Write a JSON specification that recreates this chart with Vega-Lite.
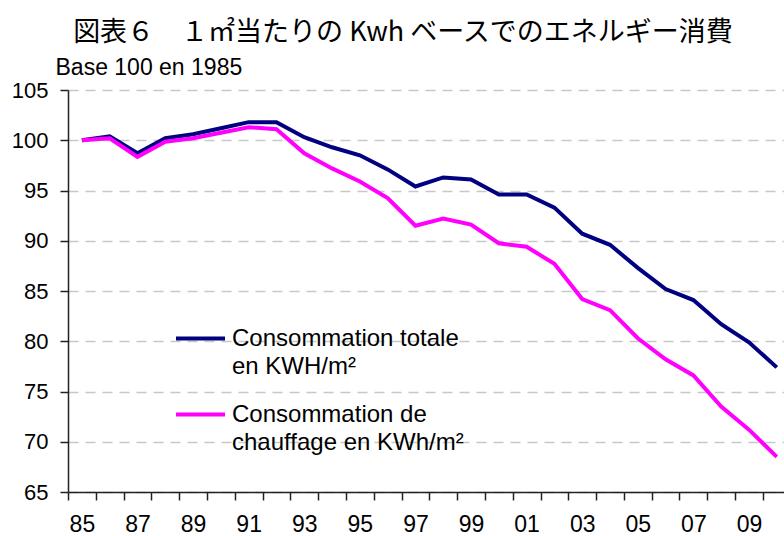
{
  "$schema": "https://vega.github.io/schema/vega-lite/v6.json",
  "width": 716,
  "height": 402,
  "autosize": {"type": "none"},
  "padding": {"left": 68, "top": 90, "right": 0, "bottom": 44},
  "background": "white",
  "title": {
    "text": "図表６　１㎡当たりの Kwh ベースでのエネルギー消費",
    "font": "Noto Sans CJK JP",
    "fontSize": 27,
    "fontWeight": "normal",
    "color": "black",
    "anchor": "middle",
    "frame": "group",
    "baseline": "alphabetic",
    "offset": 20,
    "dx": -23,
    "dy": 32
  },
  "config": {
    "view": {"stroke": null},
    "font": "Liberation Sans"
  },
  "data": {
    "values": [
      {"year": 1985, "series": "Consommation totale en KWH/m²", "value": 100.0},
      {"year": 1986, "series": "Consommation totale en KWH/m²", "value": 100.4},
      {"year": 1987, "series": "Consommation totale en KWH/m²", "value": 98.7},
      {"year": 1988, "series": "Consommation totale en KWH/m²", "value": 100.2},
      {"year": 1989, "series": "Consommation totale en KWH/m²", "value": 100.6},
      {"year": 1990, "series": "Consommation totale en KWH/m²", "value": 101.2},
      {"year": 1991, "series": "Consommation totale en KWH/m²", "value": 101.8},
      {"year": 1992, "series": "Consommation totale en KWH/m²", "value": 101.8},
      {"year": 1993, "series": "Consommation totale en KWH/m²", "value": 100.3},
      {"year": 1994, "series": "Consommation totale en KWH/m²", "value": 99.3},
      {"year": 1995, "series": "Consommation totale en KWH/m²", "value": 98.5},
      {"year": 1996, "series": "Consommation totale en KWH/m²", "value": 97.1},
      {"year": 1997, "series": "Consommation totale en KWH/m²", "value": 95.4},
      {"year": 1998, "series": "Consommation totale en KWH/m²", "value": 96.3},
      {"year": 1999, "series": "Consommation totale en KWH/m²", "value": 96.1},
      {"year": 2000, "series": "Consommation totale en KWH/m²", "value": 94.6},
      {"year": 2001, "series": "Consommation totale en KWH/m²", "value": 94.6},
      {"year": 2002, "series": "Consommation totale en KWH/m²", "value": 93.3},
      {"year": 2003, "series": "Consommation totale en KWH/m²", "value": 90.7},
      {"year": 2004, "series": "Consommation totale en KWH/m²", "value": 89.6},
      {"year": 2005, "series": "Consommation totale en KWH/m²", "value": 87.3},
      {"year": 2006, "series": "Consommation totale en KWH/m²", "value": 85.2},
      {"year": 2007, "series": "Consommation totale en KWH/m²", "value": 84.1},
      {"year": 2008, "series": "Consommation totale en KWH/m²", "value": 81.7},
      {"year": 2009, "series": "Consommation totale en KWH/m²", "value": 79.9},
      {"year": 2010, "series": "Consommation totale en KWH/m²", "value": 77.4},
      {"year": 1985, "series": "Consommation de chauffage en KWh/m²", "value": 100.0},
      {"year": 1986, "series": "Consommation de chauffage en KWh/m²", "value": 100.2},
      {"year": 1987, "series": "Consommation de chauffage en KWh/m²", "value": 98.35},
      {"year": 1988, "series": "Consommation de chauffage en KWh/m²", "value": 99.85},
      {"year": 1989, "series": "Consommation de chauffage en KWh/m²", "value": 100.2},
      {"year": 1990, "series": "Consommation de chauffage en KWh/m²", "value": 100.75},
      {"year": 1991, "series": "Consommation de chauffage en KWh/m²", "value": 101.3},
      {"year": 1992, "series": "Consommation de chauffage en KWh/m²", "value": 101.1},
      {"year": 1993, "series": "Consommation de chauffage en KWh/m²", "value": 98.7},
      {"year": 1994, "series": "Consommation de chauffage en KWh/m²", "value": 97.2},
      {"year": 1995, "series": "Consommation de chauffage en KWh/m²", "value": 95.9},
      {"year": 1996, "series": "Consommation de chauffage en KWh/m²", "value": 94.25},
      {"year": 1997, "series": "Consommation de chauffage en KWh/m²", "value": 91.5},
      {"year": 1998, "series": "Consommation de chauffage en KWh/m²", "value": 92.2},
      {"year": 1999, "series": "Consommation de chauffage en KWh/m²", "value": 91.6},
      {"year": 2000, "series": "Consommation de chauffage en KWh/m²", "value": 89.75},
      {"year": 2001, "series": "Consommation de chauffage en KWh/m²", "value": 89.4},
      {"year": 2002, "series": "Consommation de chauffage en KWh/m²", "value": 87.7},
      {"year": 2003, "series": "Consommation de chauffage en KWh/m²", "value": 84.2},
      {"year": 2004, "series": "Consommation de chauffage en KWh/m²", "value": 83.1},
      {"year": 2005, "series": "Consommation de chauffage en KWh/m²", "value": 80.3},
      {"year": 2006, "series": "Consommation de chauffage en KWh/m²", "value": 78.2},
      {"year": 2007, "series": "Consommation de chauffage en KWh/m²", "value": 76.6},
      {"year": 2008, "series": "Consommation de chauffage en KWh/m²", "value": 73.5},
      {"year": 2009, "series": "Consommation de chauffage en KWh/m²", "value": 71.2},
      {"year": 2010, "series": "Consommation de chauffage en KWh/m²", "value": 68.5}
    ]
  },
  "mark": {"type": "line", "strokeWidth": 4, "clip": false},
  "encoding": {
    "x": {
      "field": "year",
      "type": "quantitative",
      "scale": {"domain": [1984.5, 2010.26], "nice": false, "zero": false},
      "axis": {
        "title": null,
        "grid": false,
        "values": [1985, 1986, 1987, 1988, 1989, 1990, 1991, 1992, 1993, 1994, 1995, 1996, 1997, 1998, 1999, 2000, 2001, 2002, 2003, 2004, 2005, 2006, 2007, 2008, 2009, 2010],
        "tickOffset": -13.9,
        "labelOffset": 13.9,
        "labelExpr": "datum.value % 2 == 1 ? format(datum.value % 100, '02d') : ''",
        "labelFontSize": 23,
        "labelColor": "black",
        "labelPadding": 13,
        "labelFlush": false,
        "labelOverlap": false,
        "labelBound": false,
        "domainColor": "#222222",
        "domainWidth": 1.5,
        "tickColor": "#222222",
        "tickWidth": 1.5,
        "tickSize": 8
      }
    },
    "y": {
      "field": "value",
      "type": "quantitative",
      "scale": {"domain": [65, 105], "nice": false, "zero": false},
      "axis": {
        "title": "Base 100 en 1985",
        "titleAngle": 0,
        "titleAlign": "left",
        "titleBaseline": "alphabetic",
        "titleX": -13,
        "titleY": -16,
        "titleFontSize": 23,
        "titleFontWeight": "normal",
        "titleColor": "black",
        "values": [65, 70, 75, 80, 85, 90, 95, 100, 105],
        "labelFontSize": 22,
        "labelColor": "black",
        "labelPadding": 12,
        "tickSize": 8,
        "tickColor": "#222222",
        "tickWidth": 1.5,
        "domainColor": "#222222",
        "domainWidth": 1.5,
        "grid": true,
        "gridColor": "#c8c8c8",
        "gridWidth": 1.5,
        "gridDash": [10, 7]
      }
    },
    "color": {
      "field": "series",
      "type": "nominal",
      "scale": {
        "domain": ["Consommation totale en KWH/m²", "Consommation de chauffage en KWh/m²"],
        "range": ["#000080", "#ff00ff"]
      },
      "legend": {
        "title": null,
        "orient": "none",
        "legendX": 106,
        "legendY": 222,
        "symbolType": "stroke",
        "symbolSize": 2401,
        "symbolStrokeWidth": 4,
        "labelFontSize": 24,
        "labelColor": "black",
        "labelOffset": 5,
        "labelLimit": 0,
        "labelBaseline": "middle",
        "rowPadding": 9,
        "labelExpr": "datum.value == 'Consommation totale en KWH/m²' ? ['Consommation totale', 'en KWH/m²'] : ['Consommation de', 'chauffage en KWh/m²']",
        "encode": {"labels": {"update": {"lineHeight": {"value": 28}}}}
      }
    }
  }
}
